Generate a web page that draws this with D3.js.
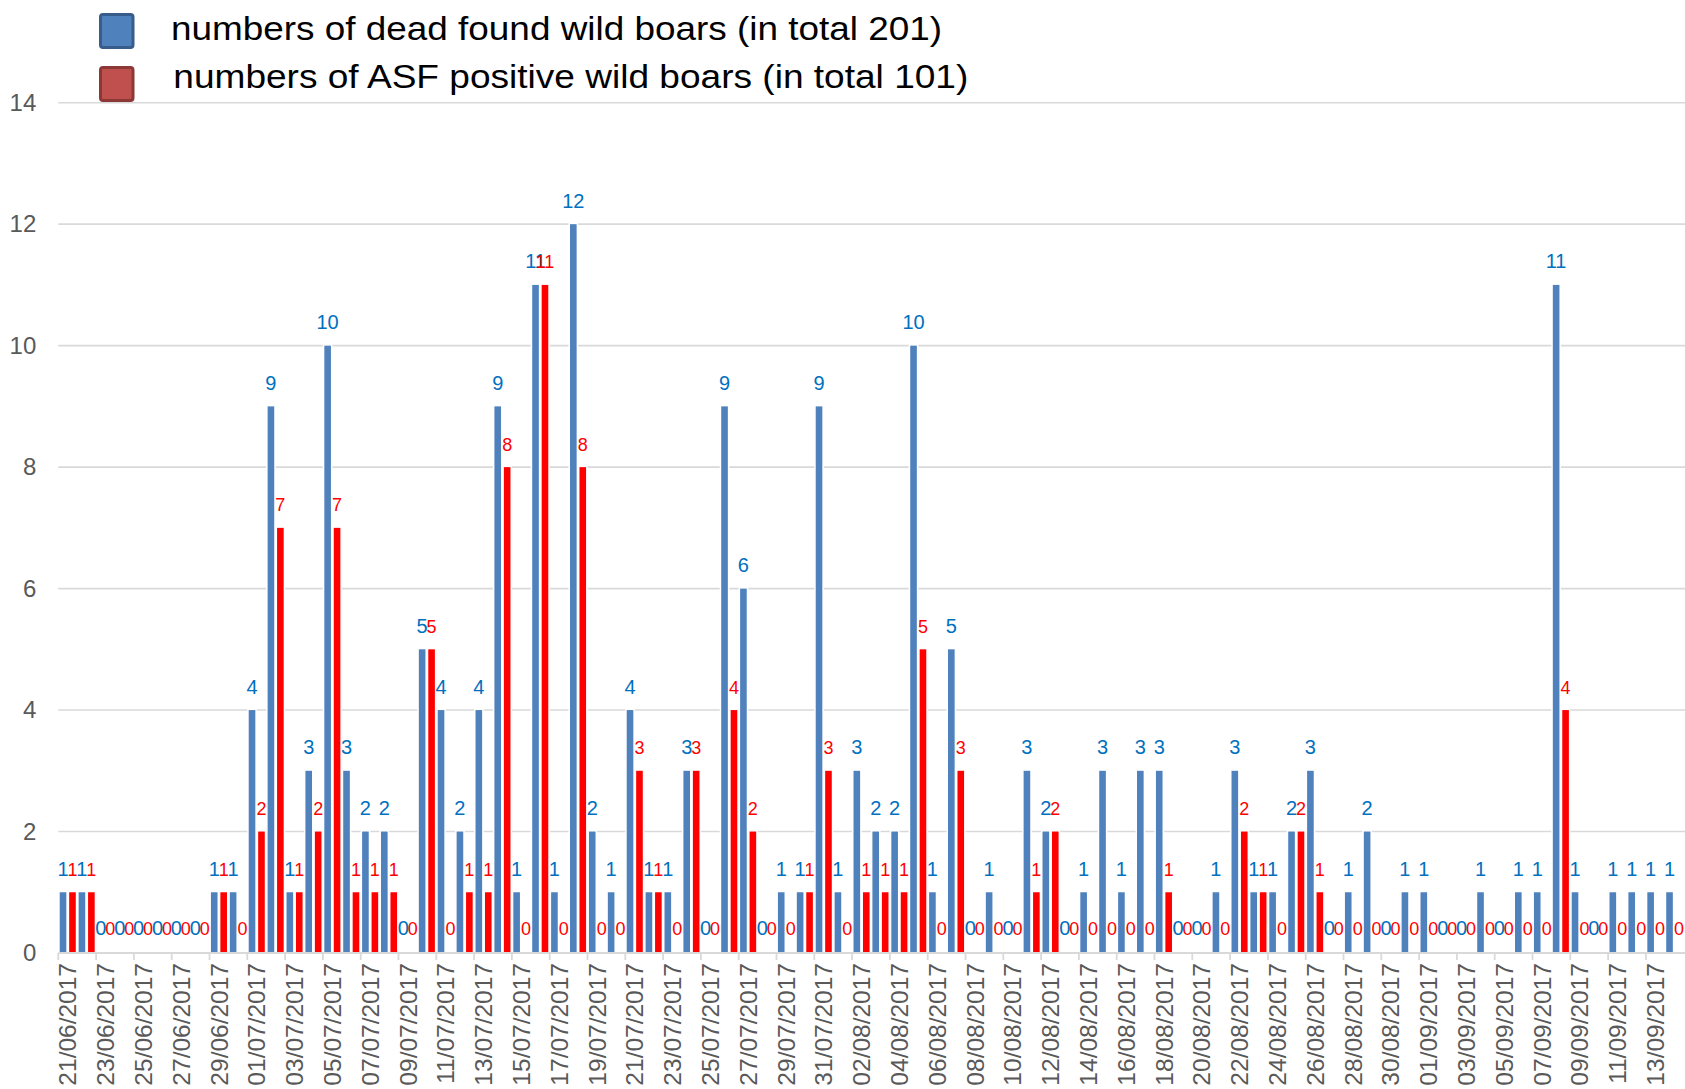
<!DOCTYPE html>
<html>
<head>
<meta charset="utf-8">
<script src="https://cdn.jsdelivr.net/npm/d3@7"></script>
<style>
  html, body { margin: 0; padding: 0; background: #fff; }
  svg { display: block; font-family: "Liberation Sans", Arial, sans-serif; }
</style>
</head>
<body>
<svg id="chart" width="1685" height="1089"></svg>
<script>
// ---- data ----
const dates = [
  "21/06/2017","22/06/2017","23/06/2017","24/06/2017","25/06/2017","26/06/2017","27/06/2017","28/06/2017","29/06/2017","30/06/2017",
  "01/07/2017","02/07/2017","03/07/2017","04/07/2017","05/07/2017","06/07/2017","07/07/2017","08/07/2017","09/07/2017","10/07/2017",
  "11/07/2017","12/07/2017","13/07/2017","14/07/2017","15/07/2017","16/07/2017","17/07/2017","18/07/2017","19/07/2017","20/07/2017",
  "21/07/2017","22/07/2017","23/07/2017","24/07/2017","25/07/2017","26/07/2017","27/07/2017","28/07/2017","29/07/2017","30/07/2017","31/07/2017",
  "01/08/2017","02/08/2017","03/08/2017","04/08/2017","05/08/2017","06/08/2017","07/08/2017","08/08/2017","09/08/2017","10/08/2017",
  "11/08/2017","12/08/2017","13/08/2017","14/08/2017","15/08/2017","16/08/2017","17/08/2017","18/08/2017","19/08/2017","20/08/2017",
  "21/08/2017","22/08/2017","23/08/2017","24/08/2017","25/08/2017","26/08/2017","27/08/2017","28/08/2017","29/08/2017","30/08/2017","31/08/2017",
  "01/09/2017","02/09/2017","03/09/2017","04/09/2017","05/09/2017","06/09/2017","07/09/2017","08/09/2017","09/09/2017","10/09/2017",
  "11/09/2017","12/09/2017","13/09/2017","14/09/2017"
];
const deadFound = [
  1,1,0,0,0,0,0,0,1,1,
  4,9,1,3,10,3,2,2,0,5,
  4,2,4,9,1,11,1,12,2,1,
  4,1,1,3,0,9,6,0,1,1,9,
  1,3,2,2,10,1,5,0,1,0,
  3,2,0,1,3,1,3,3,0,0,
  1,3,1,1,2,3,0,1,2,0,1,
  1,0,0,1,0,1,1,11,1,0,
  1,1,1,1
];
const asfPositive = [
  1,1,0,0,0,0,0,0,1,0,
  2,7,1,2,7,1,1,1,0,5,
  0,1,1,8,0,11,0,8,0,0,
  3,1,0,3,0,4,2,0,0,1,3,
  0,1,1,1,5,0,3,0,0,0,
  1,2,0,0,0,0,0,1,0,0,
  0,2,1,0,2,1,0,0,0,0,0,
  0,0,0,0,0,0,0,4,0,0,
  0,0,0,0
];
const seriesNames = ["numbers of dead found wild boars (in total 201)", "numbers of ASF positive wild boars (in total 101)"];
const yTicks = [0, 2, 4, 6, 8, 10, 12, 14];

// ---- layout ----
const svg = d3.select("#chart");
const X0 = 58.3, X1 = 1683.7, Y0 = 953, Y1 = 102.7, RIGHT = 1685;
const x = d3.scaleBand().domain(dates).range([X0, X1]).padding(0);
const x1 = d3.scaleBand().domain(["dead", "pos"]).range([0, x.bandwidth()]).paddingInner(0.3).paddingOuter(0.15);
const y = d3.scaleLinear().domain([0, 14]).range([Y0, Y1]);

const barColor = { dead: "#4F81BD", pos: "#FF0000" };
const labelColor = { dead: "#0070C0", pos: "#FF0000" };
const labelSize = { dead: 20, pos: 18 };

// gridlines
svg.append("g").selectAll("line").data(yTicks.filter(t => t > 0)).join("line")
  .attr("x1", X0).attr("x2", RIGHT)
  .attr("y1", d => y(d)).attr("y2", d => y(d))
  .attr("stroke", "#D9D9D9").attr("stroke-width", 1.6);

// y axis labels
const yAxis = svg.append("g").attr("transform", `translate(${X0},0)`)
  .call(d3.axisLeft(y).tickValues(yTicks).tickSize(0).tickPadding(22).tickFormat(d3.format("d")));
yAxis.select(".domain").remove();
yAxis.selectAll("text").attr("font-size", 24).attr("fill", "#595959")
  .attr("font-family", "Liberation Sans, Arial, sans-serif");

// bars
const rows = dates.map((d, i) => ({ date: d, dead: deadFound[i], pos: asfPositive[i] }));
const keys = ["dead", "pos"];
const flat = [];
rows.forEach(r => keys.forEach(k => flat.push({ date: r.date, key: k, v: r[k] })));

const bw = x1.bandwidth();
svg.append("g").selectAll("rect").data(flat.filter(d => d.v > 0)).join("rect")
  .attr("x", d => x(d.date) + x1(d.key) - 0.75)
  .attr("width", bw + 1.5)
  .attr("y", d => y(d.v) - 0.75)
  .attr("height", d => Y0 - y(d.v) + 0.75)
  .attr("fill", d => barColor[d.key])
  .attr("stroke", "#fff").attr("stroke-width", 1.5);

// x axis line + ticks
svg.append("line").attr("x1", X0).attr("x2", RIGHT).attr("y1", Y0).attr("y2", Y0)
  .attr("stroke", "#D9D9D9").attr("stroke-width", 1.8);
const tickDates = dates.filter((d, i) => i % 2 === 0);
svg.append("g").selectAll("line").data(tickDates).join("line")
  .attr("x1", d => x(d)).attr("x2", d => x(d))
  .attr("y1", Y0).attr("y2", Y0 + 7)
  .attr("stroke", "#D9D9D9").attr("stroke-width", 1.8);

// x axis labels
const xAxis = svg.append("g").attr("transform", `translate(0,${Y0})`)
  .call(d3.axisBottom(x).tickValues(tickDates).tickSize(0).tickPadding(0));
xAxis.select(".domain").remove();
xAxis.selectAll("text")
  .attr("font-size", 24.5).attr("fill", "#595959")
  .attr("font-family", "Liberation Sans, Arial, sans-serif")
  .attr("text-anchor", "end")
  .attr("transform", "translate(0,10) rotate(-90)")
  .attr("x", 0).attr("y", 0).attr("dy", "0.35em");

// data labels
svg.append("g").selectAll("text").data(flat).join("text")
  .attr("x", d => x(d.date) + x1(d.key) + bw / 2)
  .attr("y", d => y(d.v) - (d.v === 0 ? 18 : 16.5))
  .attr("text-anchor", "middle")
  .attr("font-size", d => labelSize[d.key])
  .attr("fill", d => labelColor[d.key])
  .text(d => d.v);

// legend
const legend = svg.append("g");
const legendItems = [
  { name: seriesNames[0], fill: "#4F81BD", stroke: "#385D8A", sy: 14.5, tx: 171, ty: 39.5, len: 771 },
  { name: seriesNames[1], fill: "#C0504D", stroke: "#8C3836", sy: 67.5, tx: 173.3, ty: 87.5, len: 795 }
];
legend.selectAll("rect").data(legendItems).join("rect")
  .attr("x", 100.5).attr("y", d => d.sy).attr("width", 32.5).attr("height", 33)
  .attr("rx", 2.5)
  .attr("fill", d => d.fill).attr("stroke", d => d.stroke).attr("stroke-width", 3);
legend.selectAll("text").data(legendItems).join("text")
  .attr("x", d => d.tx).attr("y", d => d.ty)
  .attr("font-size", 33.5).attr("fill", "#000")
  .attr("textLength", d => d.len).attr("lengthAdjust", "spacingAndGlyphs")
  .text(d => d.name);
</script>
</body>
</html>
